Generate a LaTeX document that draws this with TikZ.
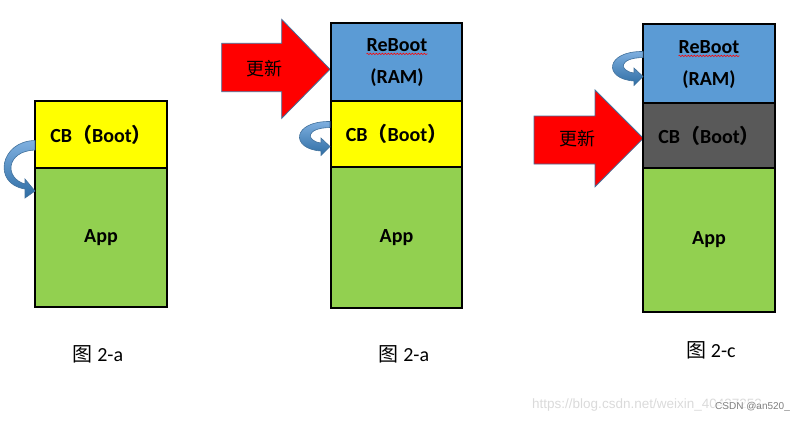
\documentclass[tikz,border=0pt]{standalone}
\usepackage{fontspec}
\setmainfont{Carlito}
\newfontfamily\cjk{Noto Sans CJK SC}
\newfontfamily\wmfont{Liberation Sans}
\usetikzlibrary{decorations.pathmorphing}
\definecolor{blueR}{HTML}{5B9BD5}
\definecolor{yellowC}{HTML}{FFFF00}
\definecolor{greenA}{HTML}{92D050}
\definecolor{grayC}{HTML}{595959}
\definecolor{redU}{HTML}{FF0000}
\definecolor{edgeB}{HTML}{41719C}
\definecolor{curlL}{HTML}{7FB0E0}
\definecolor{curlD}{HTML}{2E6DA4}
\definecolor{wmC}{HTML}{DADADA}
\begin{document}
\begin{tikzpicture}[x=1pt,y=-1pt,
  mem/.style={draw=black, line width=2pt, inner sep=0pt,
    font=\fontsize{20}{22}\selectfont\bfseries},
  lbl/.style={inner sep=0pt, font=\fontsize{20}{22}\selectfont\bfseries},
  upd/.style={fill=redU, draw=edgeB, line width=0.8pt},
  updtxt/.style={inner sep=0pt, font=\fontsize{18}{20}\selectfont\cjk},
  figcap/.style={inner sep=0pt, font=\fontsize{20}{22}\selectfont},
  curlfill/.style={top color=curlL, bottom color=curlD, draw=edgeB, line width=0.6pt},
  squig/.style={draw=red, line width=0.6pt, decorate,
    decoration={snake, amplitude=0.7pt, segment length=3pt}}
]
\useasboundingbox (0,0) rectangle (811,424);

% ---------- Figure a ----------
\node[mem, fill=yellowC, minimum width=132pt, minimum height=67pt] (cbA) at (101,134.5)
  {CB{\cjk （}Boot{\cjk ）}};
\node[mem, fill=greenA, minimum width=132pt, minimum height=139pt] (appA) at (101,237.5) {App};
\path[curlfill] (35,140.5) .. controls (0,141) and (-8,184) .. (25,189)
  -- (25,198) -- (35,191) -- (25,179) -- (25,184)
  .. controls (4,178) and (6,151) .. (35,150) -- cycle;
\node[figcap] (capA) at (98,354) {{\cjk 图} 2-a};

% ---------- Figure b ----------
\path[upd] (221.7,43.3) -- (281.7,43.3) -- (281.7,19.3) -- (330,69.3)
  -- (281.7,118.3) -- (281.7,91.7) -- (221.7,91.7) -- cycle;
\node[updtxt] (updB) at (264,69) {更新};
\node[mem, fill=blueR, minimum width=131pt, minimum height=78pt] (rbBox) at (396.5,62) {};
\node[lbl] (rbB) at (397,45) {ReBoot};
\draw[squig] ([yshift=-2.5pt]rbB.base west) -- ([yshift=-2.5pt]rbB.base east);
\node[lbl] (ramB) at (397,78) {(RAM)};
\node[mem, fill=yellowC, minimum width=131pt, minimum height=66pt] (cbB) at (396.5,134)
  {CB{\cjk （}Boot{\cjk ）}};
\node[mem, fill=greenA, minimum width=131pt, minimum height=141pt] (appB) at (396.5,237.5) {App};
\path[curlfill] (330,121.5) .. controls (292,121) and (290,149) .. (321,151)
  -- (321,155.5) -- (330,146.5) -- (321,138) -- (321,143)
  .. controls (306,141) and (305,128) .. (330,127.5) -- cycle;
\node[figcap] (capB) at (404,354) {{\cjk 图} 2-a};

% ---------- Figure c ----------
\path[upd] (534,116) -- (595,116) -- (595,90) -- (643.3,138.3)
  -- (595,186.7) -- (595,164) -- (534,164) -- cycle;
\node[updtxt] (updC) at (577,139) {更新};
\node[mem, fill=blueR, minimum width=132pt, minimum height=79pt] (rbBoxC) at (709,63.5) {};
\node[lbl] (rbC) at (709,47) {ReBoot};
\draw[squig] ([yshift=-2.5pt]rbC.base west) -- ([yshift=-2.5pt]rbC.base east);
\node[lbl] (ramC) at (709,80) {(RAM)};
\node[mem, fill=grayC, minimum width=132pt, minimum height=65pt] (cbC) at (709,135.5)
  {CB{\cjk （}Boot{\cjk ）}};
\node[mem, fill=greenA, minimum width=132pt, minimum height=144pt] (appC) at (709,240) {App};
\begin{scope}[shift={(313,-70)}]
\path[curlfill] (330,121.5) .. controls (292,121) and (290,149) .. (321,151)
  -- (321,155.5) -- (330,146.5) -- (321,138) -- (321,143)
  .. controls (306,141) and (305,128) .. (330,127.5) -- cycle;
\end{scope}
\node[figcap] (capC) at (711,350) {{\cjk 图} 2-c};

% ---------- watermark ----------
\node[anchor=west, inner sep=0pt, text=wmC, font=\fontsize{13.5}{15}\selectfont\wmfont]
  (wmUrl) at (532,405) {https://blog.csdn.net/weixin\_40437252};
\node[anchor=west, inner sep=1pt, fill=white, fill opacity=0.6, text opacity=1, text=gray,
  font=\fontsize{10}{12}\selectfont\wmfont] (wmUser) at (714,407) {CSDN @an520\_};
\end{tikzpicture}
\end{document}
